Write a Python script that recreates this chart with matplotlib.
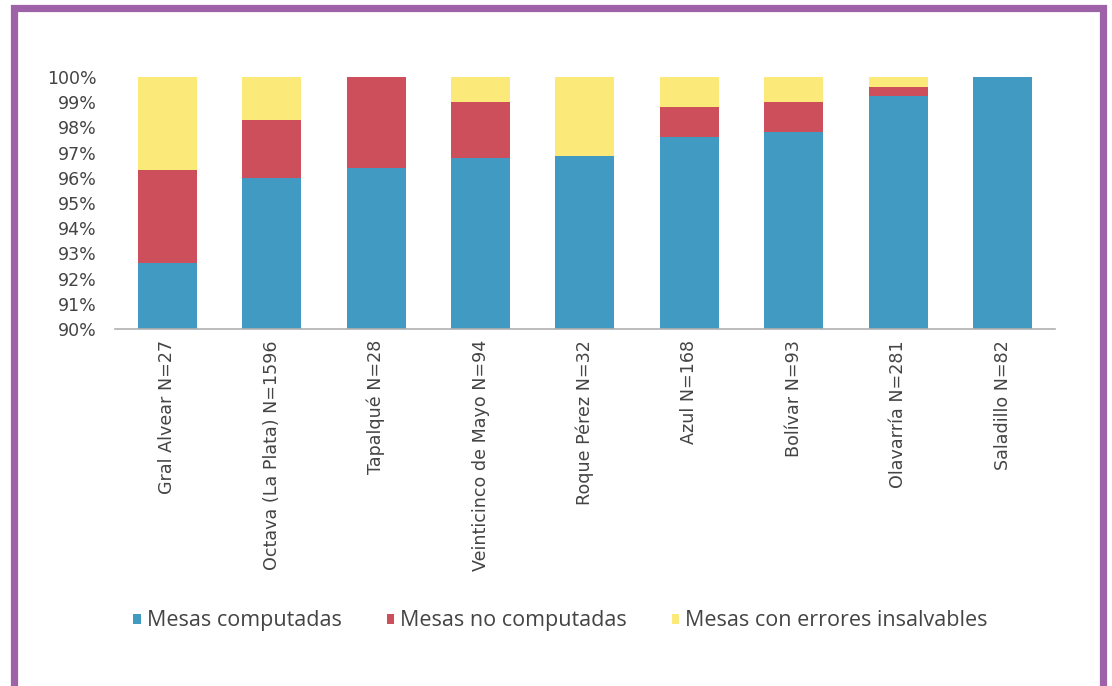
import matplotlib.pyplot as plt
from matplotlib.patches import Patch, Rectangle
from matplotlib.ticker import FuncFormatter, MultipleLocator

# --- data: share of polling tables per district (percent) ---
districts = [
    "Gral Alvear N=27",
    "Octava (La Plata) N=1596",
    "Tapalqué N=28",
    "Veinticinco de Mayo N=94",
    "Roque Pérez N=32",
    "Azul N=168",
    "Bolívar N=93",
    "Olavarría N=281",
    "Saladillo N=82",
]
computadas = [92.6, 96.0, 96.4, 96.8, 96.85, 97.6, 97.8, 99.25, 100.0]
no_computadas = [3.7, 2.3, 3.6, 2.2, 0.0, 1.2, 1.2, 0.35, 0.0]
errores = [3.7, 1.7, 0.0, 1.0, 3.15, 1.2, 1.0, 0.4, 0.0]

series_names = ["Mesas computadas", "Mesas no computadas", "Mesas con errores insalvables"]
colors = ["#409ac2", "#cc4f5b", "#fbe97a"]

BASE = 90.0


def main() -> None:
    fig = plt.figure(figsize=(11.12, 6.86), dpi=100)
    ax = fig.add_axes([0.1034, 0.5204, 0.8453, 0.3674])

    x = range(len(districts))
    width = 0.565

    # stacked bars starting from the 90% baseline
    ax.bar(x, [v - BASE for v in computadas], width, bottom=BASE, color=colors[0])
    bottom2 = computadas
    ax.bar(x, no_computadas, width, bottom=bottom2, color=colors[1])
    bottom3 = [a + b for a, b in zip(computadas, no_computadas)]
    ax.bar(x, errores, width, bottom=bottom3, color=colors[2])

    ax.set_ylim(90, 100)
    ax.set_xlim(-0.5, 8.5)
    ax.yaxis.set_major_locator(MultipleLocator(1))
    ax.yaxis.set_major_formatter(FuncFormatter(lambda v, _: f"{v:.0f}%"))

    for side in ("left", "right", "top"):
        ax.spines[side].set_visible(False)
    ax.spines["bottom"].set_color("#b0b0b0")
    ax.spines["bottom"].set_linewidth(1.2)

    ax.tick_params(axis="y", length=0, pad=13, labelsize=12.5, labelcolor="#444444")
    ax.tick_params(axis="x", length=0, pad=8)
    ax.set_xticks(list(x))
    ax.set_xticklabels(districts, rotation=90, ha="center", va="top",
                       fontsize=12.6, color="#444444", family="DejaVu Sans")

    handles = [Patch(facecolor=c, edgecolor="none") for c in colors]
    fig.legend(handles, series_names, loc="center", bbox_to_anchor=(0.504, 0.095),
               ncol=3, frameon=False, handlelength=0.33, handleheight=0.33,
               handletextpad=0.28, columnspacing=2.1,
               prop={"family": "Open Sans", "size": 15.5}, labelcolor="#444444")

    # purple frame around the figure
    frame = Rectangle((13.5 / 1112, -0.05), (1103 - 13.5) / 1112, 0.05 + 1 - 8.5 / 686,
                      transform=fig.transFigure, fill=False,
                      edgecolor="#9e62a9", linewidth=5.2)
    fig.patches.append(frame)

    fig.savefig("out.png", dpi=100)


if __name__ == "__main__":
    main()
